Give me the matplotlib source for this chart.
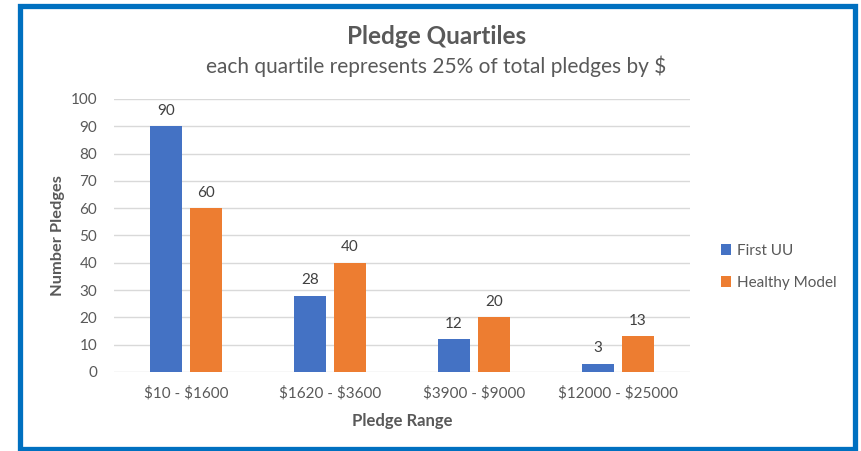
import matplotlib.pyplot as plt
from matplotlib.patches import Rectangle
import numpy as np

# Daten
ranges = [r"\$10 - \$1600", r"\$1620 - \$3600", r"\$3900 - \$9000", r"\$12000 - \$25000"]
first_uu = [90, 28, 12, 3]
healthy_model = [60, 40, 20, 13]

plt.rcParams["font.family"] = ["Lato", "DejaVu Sans"]
grey = "#595959"

fig = plt.figure(figsize=(8.61, 4.51), dpi=100)
ax = fig.add_axes([0.1324, 0.1752, 0.8014 - 0.1324, 0.7805 - 0.1752])

x = np.arange(len(ranges))
w = 0.225
b1 = ax.bar(x - 0.139, first_uu, w, color="#4472C4", label="First UU", zorder=3)
b2 = ax.bar(x + 0.139, healthy_model, w, color="#ED7D31", label="Healthy Model", zorder=3)

for bars in (b1, b2):
    for r in bars:
        ax.annotate(f"{r.get_height():g}", (r.get_x() + r.get_width() / 2, r.get_height()),
                    xytext=(0, 6), textcoords="offset points", ha="center", va="bottom",
                    fontsize=11, color="#404040")

ax.set_xlim(-0.5, 3.5)
ax.set_ylim(0, 100)
ax.set_yticks(range(0, 101, 10))
ax.set_xticks(x)
ax.set_xticklabels(ranges)
ax.tick_params(length=0, labelsize=11, labelcolor=grey)
ax.tick_params(axis="x", pad=10)
ax.tick_params(axis="y", pad=12)
ax.grid(axis="y", color="#D9D9D9", linewidth=1, zorder=0)
for s in ax.spines.values():
    s.set_visible(False)

ax.set_xlabel("Pledge Range", fontsize=12, fontweight="bold", color=grey, labelpad=9)
ax.set_ylabel("Number Pledges", fontsize=11.8, fontweight="bold", color=grey, labelpad=4)

fig.text(0.507, 0.918, "Pledge Quartiles", ha="center", va="center",
         fontsize=17.5, fontweight="bold", color=grey)
fig.text(0.507, 0.853, r"each quartile represents 25% of total pledges by \$", ha="center",
         va="center", fontsize=15, color=grey)

ax.legend(loc="center left", bbox_to_anchor=(0.821, 0.408), bbox_transform=fig.transFigure,
          frameon=False, fontsize=11, labelcolor=grey, handlelength=0.7,
          handleheight=0.7, handletextpad=0.4, labelspacing=1.2)

# blauer Rahmen
fig.patches.append(Rectangle((19.5 / 861, 1 - 449 / 451), (855 - 19.5) / 861, (449 - 5.5) / 451,
                             transform=fig.transFigure, fill=False,
                             edgecolor="#0070C0", linewidth=3.8))

fig.savefig("out.png", dpi=100)
